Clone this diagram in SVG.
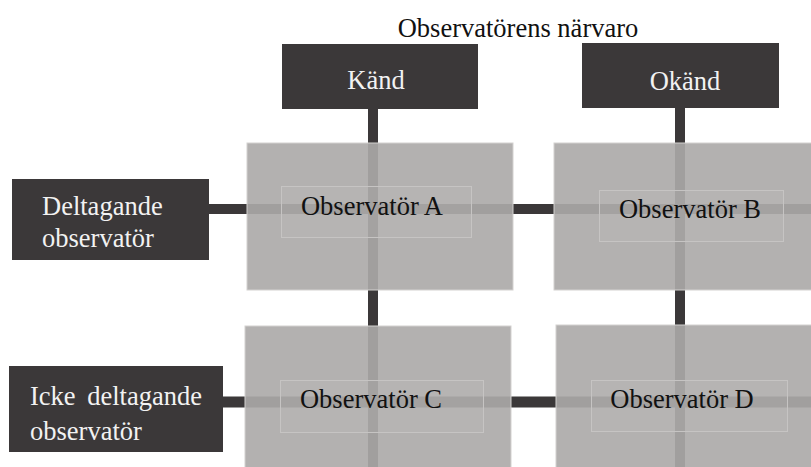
<svg xmlns="http://www.w3.org/2000/svg" width="811" height="467" viewBox="0 0 811 467">
  <style>
    .dark { fill: #3b3839; }
    .cell { fill: #aba9a8; fill-opacity: 0.91; stroke: #d3d1d0; stroke-width: 1; }
    .inner { fill: #ffffff; fill-opacity: 0.04; stroke: #c6c4c3; stroke-width: 1; }
    .wire { stroke: #3b3839; fill: none; }
    .lt { font-family: "Liberation Serif", "Times New Roman", serif; font-size: 26.5px; fill: #f2f2f2; }
    .dk { font-family: "Liberation Serif", "Times New Roman", serif; font-size: 26.5px; fill: #111111; }
  </style>
  <rect width="811" height="467" fill="#ffffff"/>

  <!-- connectors: drawn first so the cells sit over them -->
  <g id="connectors">
    <line class="wire" x1="373" y1="109" x2="373" y2="467" stroke-width="10"/>
    <line class="wire" x1="680" y1="108" x2="680" y2="467" stroke-width="10"/>
    <line class="wire" x1="209" y1="209" x2="811" y2="209" stroke-width="10"/>
    <line class="wire" x1="223" y1="402" x2="811" y2="402" stroke-width="11"/>
  </g>

  <text class="dk" x="518" y="37" text-anchor="middle">Observatörens närvaro</text>

  <g id="kand">
    <rect class="dark" x="282" y="44" width="196" height="65"/>
    <text class="lt" x="376" y="89" text-anchor="middle">Känd</text>
  </g>
  <g id="okand">
    <rect class="dark" x="582" y="43" width="197" height="65"/>
    <text class="lt" x="685" y="90" text-anchor="middle">Okänd</text>
  </g>

  <g id="deltagande">
    <rect class="dark" x="12" y="179" width="197" height="81"/>
    <text class="lt" x="42" y="215">Deltagande</text>
    <text class="lt" x="42" y="247">observatör</text>
  </g>
  <g id="icke-deltagande">
    <rect class="dark" x="9" y="366" width="214" height="86"/>
    <text class="lt" x="30" y="405" word-spacing="5">Icke deltagande</text>
    <text class="lt" x="30" y="440">observatör</text>
  </g>

  <g id="observator-a">
    <rect class="cell" x="247" y="143" width="266" height="147"/>
    <rect class="inner" x="281.5" y="186.5" width="190" height="51"/>
    <text class="dk" x="372" y="215" text-anchor="middle">Observatör A</text>
  </g>
  <g id="observator-b">
    <rect class="cell" x="554" y="143" width="260" height="147"/>
    <rect class="inner" x="599.5" y="190.5" width="184" height="51"/>
    <text class="dk" x="690" y="218" text-anchor="middle">Observatör B</text>
  </g>
  <g id="observator-c">
    <rect class="cell" x="245" y="326" width="266" height="145"/>
    <rect class="inner" x="280.5" y="380.5" width="203" height="52"/>
    <text class="dk" x="371" y="408" text-anchor="middle">Observatör C</text>
  </g>
  <g id="observator-d">
    <rect class="cell" x="556" y="325" width="258" height="146"/>
    <rect class="inner" x="591.5" y="380.5" width="196" height="51"/>
    <text class="dk" x="682" y="408" text-anchor="middle">Observatör D</text>
  </g>
</svg>
